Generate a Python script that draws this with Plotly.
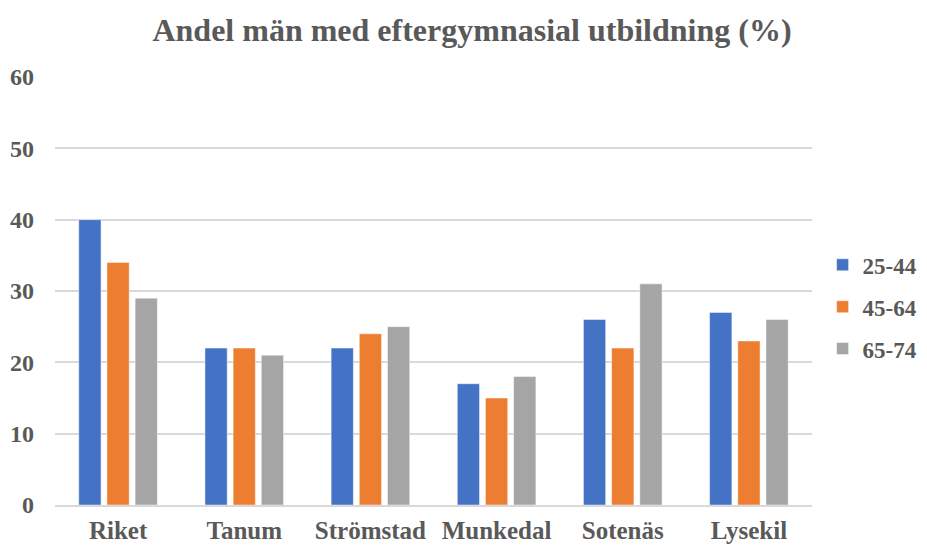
import plotly.graph_objects as go

categories = ["Riket", "Tanum", "Strömstad", "Munkedal", "Sotenäs", "Lysekil"]
series_names = ["25-44", "45-64", "65-74"]
v_25_44 = [40, 22, 22, 17, 26, 27]
v_45_64 = [34, 22, 24, 15, 22, 23]
v_65_74 = [29, 21, 25, 18, 31, 26]
colors = ["#4472C4", "#ED7D31", "#A5A5A5"]
y_ticks = [0, 10, 20, 30, 40, 50, 60]

TXT = "#595959"
FONT = "Liberation Serif, Times New Roman, serif"

# page has an 8px body margin, so the figure is 8px smaller and margins shifted
W, H = 919, 537

fig = go.Figure()
for name, vals, col in zip(series_names, [v_25_44, v_45_64, v_65_74], colors):
    fig.add_trace(go.Bar(
        x=categories, y=vals, name=name, legendgroup=name,
        marker=dict(color=col, line=dict(color="rgba(255,255,255,0.6)", width=0.8)),
    ))

fig.update_layout(
    width=W, height=H,
    margin=dict(l=47, r=115, t=69, b=40, autoexpand=False),
    paper_bgcolor="white", plot_bgcolor="white",
    barmode="group", bargap=0.33, bargroupgap=0.21,
    font=dict(family=FONT, color=TXT, size=23, weight="bold"),
    title=dict(
        text="Andel män med eftergymnasial utbildning (%)",
        font=dict(family=FONT, size=32, color=TXT, weight="bold"),
        x=464 / W, xref="container", xanchor="center",
        y=1 - 22 / H, yref="container", yanchor="middle",
    ),
    legend=dict(
        x=1.014, xanchor="left", y=0.463, yanchor="middle",
        font=dict(family=FONT, size=23, color=TXT, weight="bold"),
        tracegroupgap=9, bgcolor="rgba(0,0,0,0)", borderwidth=0,
    ),
    xaxis=dict(
        automargin=False,
        showgrid=False, showline=True, linecolor="#D9D9D9", linewidth=1.5,
        ticks="", tickfont=dict(family=FONT, size=25, color=TXT, weight="bold"),
        ticklabelstandoff=2,
    ),
    yaxis=dict(
        automargin=False,
        range=[0, 60], tickvals=y_ticks, showgrid=True, gridcolor="#D9D9D9", gridwidth=1.5,
        zeroline=False, showline=False, ticks="",
        tickfont=dict(family=FONT, size=24, color=TXT, weight="bold"),
        ticklabelstandoff=20,
    ),
)

fig.write_html("out.html")
